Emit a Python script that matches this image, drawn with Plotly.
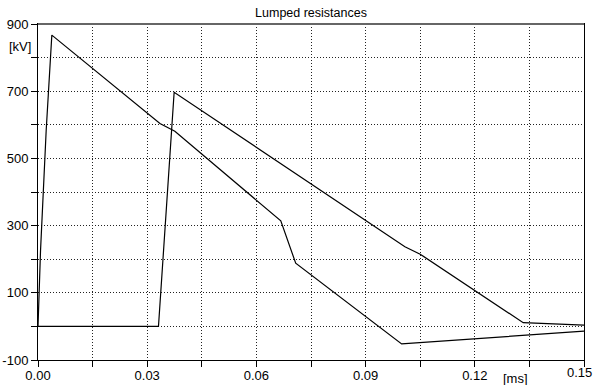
import plotly.graph_objects as go

# Curve 1 (first surge)
t1 = [0.0, 0.0007, 0.00225, 0.0038, 0.0335, 0.0376, 0.0667, 0.0708, 0.0999, 0.15]
v1 = [0, 227, 584, 867, 604, 581, 314, 188, -52, -14]

# Curve 2 (second surge)
t2 = [0.0, 0.0331, 0.0374, 0.1008, 0.105, 0.1333, 0.15]
v2 = [0, 0, 697, 237, 215, 11, 4]

y_ticks = [-100, 0, 100, 200, 300, 400, 500, 600, 700, 800, 900]
y_labels = ["-100", "", "100", "", "300", "", "500", "", "700", "", "900"]
x_ticks = [0.0, 0.015, 0.03, 0.045, 0.06, 0.075, 0.09, 0.105, 0.12, 0.135, 0.15]
x_labels = ["0.00", "", "0.03", "", "0.06", "", "0.09", "", "0.12", "", ""]
x_last_label = "0.15"

title = "Lumped resistances"

fig = go.Figure()
fig.add_trace(go.Scatter(x=t1, y=v1, mode="lines", line=dict(color="black", width=1.2), showlegend=False))
fig.add_trace(go.Scatter(x=t2, y=v2, mode="lines", line=dict(color="black", width=1.2), showlegend=False))

font = "Liberation Sans, Arial, sans-serif"
fig.update_layout(
    width=595, height=385,
    margin=dict(l=38, r=11, t=24, b=25, autoexpand=False),
    paper_bgcolor="white", plot_bgcolor="white",
    font=dict(family=font, size=13, color="black"),
    title=dict(text=title, x=0.5, xanchor="center", xref="paper", y=1 - 13 / 385, yanchor="middle",
               font=dict(size=12.5, family=font, color="black")),
)
fig.update_xaxes(
    range=[0, 0.15], tickmode="array", tickvals=x_ticks, ticktext=x_labels, automargin=False,
    tickfont=dict(size=13, family=font), ticklabelstandoff=-3,
    showgrid=True, gridcolor="#222222", griddash="1px,2px", gridwidth=1,
    showline=True, linecolor="black", linewidth=1, mirror=True,
    ticks="outside", ticklen=6, tickcolor="black", zeroline=False,
)
fig.update_yaxes(
    range=[-100, 900], tickmode="array", tickvals=y_ticks, ticktext=y_labels, automargin=False,
    tickfont=dict(size=13, family=font),
    showgrid=True, gridcolor="#222222", griddash="1px,2px", gridwidth=1,
    showline=True, linecolor="black", linewidth=1, mirror=True,
    ticks="outside", ticklen=6, tickcolor="black", zeroline=False,
)
fig.add_annotation(text="[kV]", xref="paper", yref="paper", x=-38 / 546 + 0.012, y=(360 - 46) / 336,
                   xanchor="left", yanchor="middle", showarrow=False, font=dict(size=13, family=font))
fig.add_annotation(text="[ms]", xref="x", yref="paper", x=0.1313, y=-18 / 336,
                   xanchor="center", yanchor="middle", showarrow=False, font=dict(size=13, family=font))
fig.add_annotation(text=x_last_label, xref="paper", yref="paper", x=(594 - 38) / 546, y=-12 / 336,
                   xanchor="right", yanchor="middle", showarrow=False, font=dict(size=13, family=font))
fig.add_shape(type="line", xref="paper", yref="paper", x0=0, x1=1, y0=1, y1=1,
              line=dict(color="#666666", width=2))

fig.write_html("out.html")
